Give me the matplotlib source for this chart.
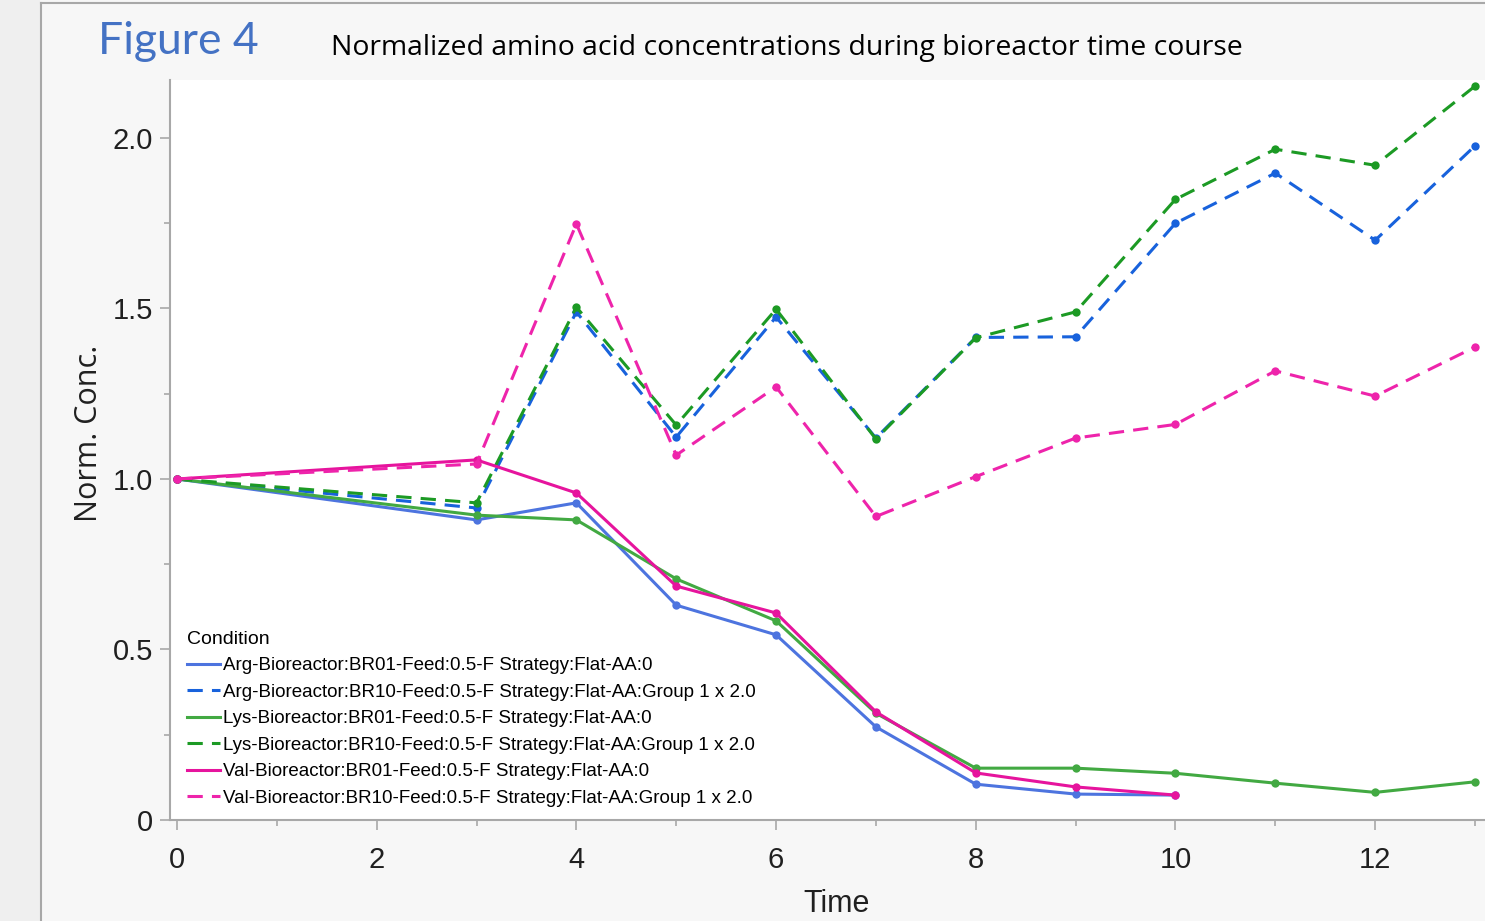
import matplotlib
matplotlib.use("Agg")
import matplotlib.pyplot as plt
from matplotlib.lines import Line2D
from matplotlib.patches import Rectangle
from matplotlib.ticker import MultipleLocator

# 数据
time_short = [0, 3, 4, 5, 6, 7, 8, 9, 10]
time_long = [0, 3, 4, 5, 6, 7, 8, 9, 10, 11, 12, 13]

arg_br01 = [1.00, 0.88, 0.93, 0.63, 0.543, 0.273, 0.105, 0.076, 0.073]
arg_br10 = [1.00, 0.915, 1.49, 1.123, 1.475, 1.12, 1.415, 1.417, 1.75, 1.897, 1.70, 1.977]
lys_br01 = [1.00, 0.894, 0.88, 0.707, 0.584, 0.313, 0.152, 0.152, 0.137, 0.108, 0.081, 0.112]
lys_br10 = [1.00, 0.93, 1.504, 1.158, 1.498, 1.117, 1.414, 1.49, 1.82, 1.967, 1.92, 2.152]
val_br01 = [1.00, 1.056, 0.959, 0.686, 0.607, 0.317, 0.138, 0.097, 0.073]
val_br10 = [1.00, 1.044, 1.748, 1.07, 1.27, 0.89, 1.007, 1.12, 1.16, 1.317, 1.243, 1.387]

labels = [
    "Arg-Bioreactor:BR01-Feed:0.5-F Strategy:Flat-AA:0",
    "Arg-Bioreactor:BR10-Feed:0.5-F Strategy:Flat-AA:Group 1 x 2.0",
    "Lys-Bioreactor:BR01-Feed:0.5-F Strategy:Flat-AA:0",
    "Lys-Bioreactor:BR10-Feed:0.5-F Strategy:Flat-AA:Group 1 x 2.0",
    "Val-Bioreactor:BR01-Feed:0.5-F Strategy:Flat-AA:0",
    "Val-Bioreactor:BR10-Feed:0.5-F Strategy:Flat-AA:Group 1 x 2.0",
]

series = [
    (time_short, arg_br01, "#4d74df", "-"),
    (time_long, arg_br10, "#1862dc", "--"),
    (time_long, lys_br01, "#42a942", "-"),
    (time_long, lys_br10, "#1c9a24", "--"),
    (time_short, val_br01, "#e6149d", "-"),
    (time_long, val_br10, "#ee24ab", "--"),
]

narrow = ["Liberation Sans", "DejaVu Sans"]

fig = plt.figure(figsize=(14.85, 9.21), dpi=100, facecolor="#f7f7f7")

# 左侧灰条和边框
fig.patches.append(Rectangle((0, 0), 40 / 1485, 1, transform=fig.transFigure,
                             facecolor="#efefef", edgecolor="none", zorder=0))
fig.add_artist(Line2D([41 / 1485, 41 / 1485], [0, 1 - 3 / 921], transform=fig.transFigure,
                      color="#a8a8a8", lw=1.5))
fig.add_artist(Line2D([41 / 1485, 1], [1 - 3 / 921, 1 - 3 / 921], transform=fig.transFigure,
                      color="#a8a8a8", lw=1.5))

ax = fig.add_axes([170 / 1485, 101 / 921, 1 - 170 / 1485, 740 / 921])
ax.set_facecolor("white")

lw = 2.2
for (t, y, c, ls), lab in zip(series, labels):
    line, = ax.plot(t, y, color=c, ls=ls, lw=lw, marker="o", markersize=6,
                    markeredgewidth=0, label=lab)
    if ls == "--":
        line.set_dashes((5, 3))

ax.set_xlim(-0.07, 13.1)
ax.set_ylim(0, 2.17)

ax.xaxis.set_major_locator(MultipleLocator(2))
ax.xaxis.set_minor_locator(MultipleLocator(1))
ax.yaxis.set_major_locator(MultipleLocator(0.5))
ax.yaxis.set_minor_locator(MultipleLocator(0.25))
ax.set_yticks([0, 0.5, 1.0, 1.5, 2.0])
ax.set_yticklabels(["0", "0.5", "1.0", "1.5", "2.0"])

for s in ["top", "right"]:
    ax.spines[s].set_visible(False)
for s in ["left", "bottom"]:
    ax.spines[s].set_color("#a8a8a8")
    ax.spines[s].set_linewidth(1.5)

ax.tick_params(which="major", length=7, width=1.2, color="#a8a8a8", labelsize=21)
ax.tick_params(which="minor", length=4, width=1.2, color="#a8a8a8")
ax.tick_params(axis="x", which="major", pad=12)
ax.tick_params(axis="y", which="major", pad=5)
for lbl in ax.get_xticklabels() + ax.get_yticklabels():
    lbl.set_family(narrow)
    lbl.set_color("#202020")

ax.set_xlabel("Time", fontsize=22, family=narrow, color="#202020")
ax.xaxis.set_label_coords(0.507, -0.093)
ax.set_ylabel("Norm. Conc.", fontsize=22, family=["Open Sans", "DejaVu Sans"], color="#202020")
ax.yaxis.set_label_coords(-0.05, 0.523)

# 图例（不带标记点）
handles = []
for (t, y, c, ls) in series:
    h = Line2D([], [], color=c, ls=ls, lw=lw)
    if ls == "--":
        h.set_dashes((5, 3))
    handles.append(h)
leg = ax.legend(handles, labels, title="Condition", loc="lower left",
                bbox_to_anchor=(0.003, 0.0), frameon=False,
                prop={"family": narrow, "size": 13.5},
                title_fontproperties={"family": narrow, "size": 14},
                handlelength=1.75, handletextpad=0.15, labelspacing=0.5,
                borderpad=0.2, alignment="left")

# 标题
fig.text(98 / 1485, 1 - 42 / 921, "Figure 4", fontsize=32, color="#4472c4",
         family=["Lato", "DejaVu Sans"], va="center", ha="left")
fig.text(331 / 1485, 1 - 48 / 921,
         "Normalized amino acid concentrations during bioreactor time course",
         fontsize=20.4, color="black", family=["Open Sans", "DejaVu Sans"],
         va="center", ha="left")

fig.savefig("out.png", dpi=100, facecolor=fig.get_facecolor())
